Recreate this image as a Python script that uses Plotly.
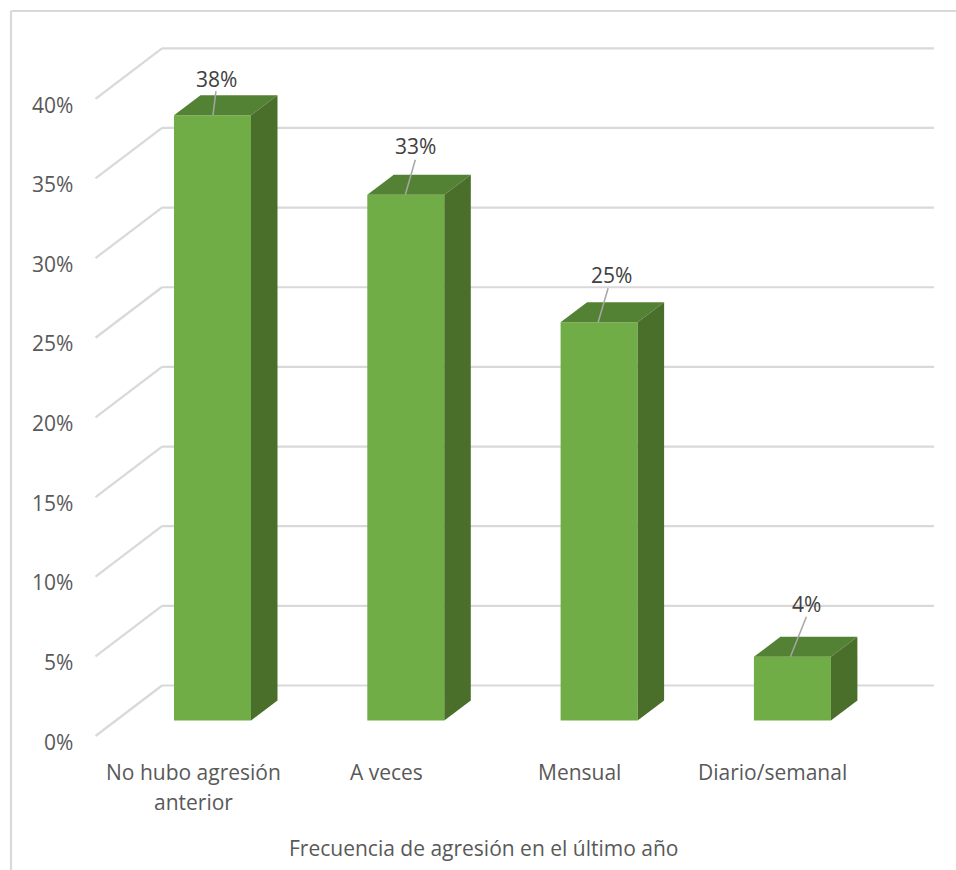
import plotly.graph_objects as go

categories = ["No hubo agresión\nanterior", "A veces", "Mensual", "Diario/semanal"]
values = [38, 33, 25, 4]
y_ticks = [0, 5, 10, 15, 20, 25, 30, 35, 40]
axis_title = "Frecuencia de agresión en el último año"

W, H = 956, 870
PX_PER_CAT = 193.3
PX_PER_PCT = 15.93
X0_PX, Y0_PX = 212.5, 720.5   # pixel of category 0 / value 0 in the bar plane

x_range = [(0 - X0_PX) / PX_PER_CAT, (W - X0_PX) / PX_PER_CAT]
y_range = [(Y0_PX - H) / PX_PER_PCT, (Y0_PX - 0) / PX_PER_PCT]


def cx(px):
    return px / PX_PER_CAT


def cy(px):
    return px / PX_PER_PCT


BAR_W = 77 / PX_PER_CAT
DX, DY = cx(26.5), cy(20)           # bar depth
FLOOR_FRONT_X = (95.5 - X0_PX) / PX_PER_CAT
FLOOR_BACK_X = (162 - X0_PX) / PX_PER_CAT
WALL_RIGHT_X = (934 - X0_PX) / PX_PER_CAT
FRONT_Y_SHIFT = cy(-15.5)
BACK_Y_SHIFT = cy(35)

TEXT = "#595959"
FONT = "Open Sans"
GRID = "#D9D9D9"
FRONT = "#70AD47"
TOP = "#548235"
SIDE = "#4A6F2B"
LEADER = "#A6A6A6"
FS = 21

xs = list(range(len(values)))
fig = go.Figure()

# front faces
fig.add_trace(go.Bar(x=xs, y=values, width=BAR_W, marker=dict(color=FRONT, line=dict(width=0)),
                     hoverinfo="skip", showlegend=False))

# top and side faces
for i, v in zip(xs, values):
    l, r = i - BAR_W / 2, i + BAR_W / 2
    fig.add_trace(go.Scatter(x=[l, r, r + DX, l + DX, l], y=[v, v, v + DY, v + DY, v],
                             mode="lines", fill="toself", fillcolor=TOP, line=dict(width=0),
                             hoverinfo="skip", showlegend=False))
    fig.add_trace(go.Scatter(x=[r, r + DX, r + DX, r, r], y=[0, DY, v + DY, v, 0],
                             mode="lines", fill="toself", fillcolor=SIDE, line=dict(width=0),
                             hoverinfo="skip", showlegend=False))

# leader lines + data labels (pixel offsets from the bar's top centre)
leader_start = [0.5, -0.5, -1, -2]
leader_end = [3.5, 9.5, 9, 14]
leader_rise = [24, 35, 34, 40]
label_dx = [3.5, 10, 12, 14.5]
label_rise = [36, 49, 47.5, 53]
for i, v in enumerate(values):
    fig.add_trace(go.Scatter(x=[i + cx(leader_start[i]), i + cx(leader_end[i])],
                             y=[v, v + cy(leader_rise[i])],
                             mode="lines", line=dict(color=LEADER, width=1.5),
                             hoverinfo="skip", showlegend=False))
    fig.add_annotation(x=i + cx(label_dx[i]), y=v + cy(label_rise[i]), text=f"{v}%",
                       showarrow=False, font=dict(family=FONT, size=FS, color="#404040"),
                       xanchor="center", yanchor="middle")

# gridlines: floor/wall diagonal + back wall
shapes = []
for t in y_ticks:
    y_front = t + FRONT_Y_SHIFT
    y_back = t + BACK_Y_SHIFT
    shapes.append(dict(type="line", xref="x", yref="y", layer="below",
                       x0=FLOOR_FRONT_X, y0=y_front, x1=FLOOR_BACK_X, y1=y_back,
                       line=dict(color=GRID, width=2.2)))
    shapes.append(dict(type="line", xref="x", yref="y", layer="below",
                       x0=FLOOR_BACK_X, y0=y_back, x1=WALL_RIGHT_X, y1=y_back,
                       line=dict(color=GRID, width=2.2)))
    fig.add_annotation(x=(75 - X0_PX) / PX_PER_CAT, y=t + cy(-21.2), text=f"{t}%", showarrow=False,
                       font=dict(family=FONT, size=FS, color=TEXT), xanchor="right", yanchor="middle")

# chart frame
shapes.append(dict(type="line", xref="paper", yref="paper", x0=11 / W, x1=11 / W, y0=0, y1=1 - 11 / H,
                   line=dict(color=GRID, width=2.2)))
shapes.append(dict(type="line", xref="paper", yref="paper", x0=11 / W, x1=1, y0=1 - 11 / H, y1=1 - 11 / H,
                   line=dict(color=GRID, width=2.2)))

# category labels
for i, c in enumerate(categories):
    for j, line in enumerate(c.split("\n")):
        fig.add_annotation(x=i + cx(-19.5), y=cy(-51 - 30 * j), text=line, showarrow=False,
                           font=dict(family=FONT, size=FS, color=TEXT), xanchor="center", yanchor="middle")

fig.add_annotation(x=(483 - X0_PX) / PX_PER_CAT, y=cy(-127), text=axis_title, showarrow=False,
                   font=dict(family=FONT, size=FS, color=TEXT), xanchor="center", yanchor="middle")

fig.update_layout(width=W, height=H, margin=dict(l=0, r=0, t=0, b=0), autosize=False,
                  paper_bgcolor="white", plot_bgcolor="white", shapes=shapes, showlegend=False,
                  xaxis=dict(range=x_range, visible=False, fixedrange=True),
                  yaxis=dict(range=y_range, visible=False, fixedrange=True))

fig.write_html("out.html", config={"displayModeBar": False},
               post_script="document.body.style.margin='0';document.documentElement.style.overflow='hidden';")
